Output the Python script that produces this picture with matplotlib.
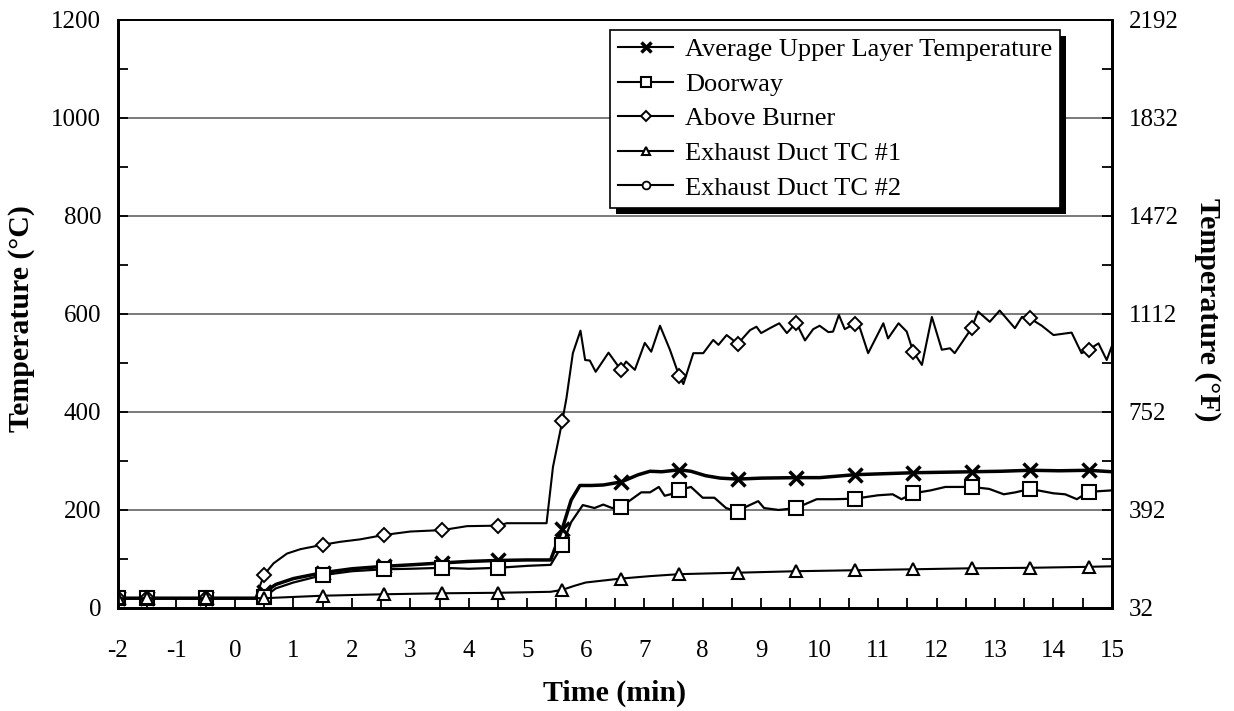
import matplotlib
matplotlib.use("Agg")
import matplotlib.pyplot as plt
from matplotlib.ticker import MultipleLocator, FixedLocator
from matplotlib.patches import Rectangle
from matplotlib.transforms import IdentityTransform

plt.rcParams['font.family'] = ['Liberation Serif', 'DejaVu Serif']
plt.rcParams['axes.unicode_minus'] = False

# Average upper layer temperature (deg C)
avg_t = [-2, -1.5, -0.5, 0.35, 0.5, 0.7, 1.0, 1.5, 2.0, 2.55, 3.0, 3.55, 4.0, 4.5, 5.0, 5.4,
         5.6, 5.75, 5.9, 6.1, 6.3, 6.6, 6.9, 7.1, 7.3, 7.6, 7.8, 8.05, 8.3, 8.6, 9.0, 9.6,
         10.0, 10.6, 11.1, 11.6, 12.1, 12.6, 13.1, 13.6, 14.1, 14.6, 15.0]
avg_y = [20, 20, 20, 20, 32, 48, 60, 72, 80, 85, 88, 92, 95, 97, 98, 98,
         162, 220, 250, 250, 251, 257, 272, 279, 278, 282, 279, 270, 265, 263, 265, 266,
         266, 272, 274, 276, 277, 278, 279, 281, 280, 281, 278]

# Doorway
door_t = [-2, -1.5, -0.5, 0.35, 0.5, 0.7, 1.0, 1.5, 2.0, 2.55, 3.0, 3.55, 4.0, 4.5, 5.0, 5.4,
          5.6, 5.75, 5.95, 6.15, 6.3, 6.45, 6.6, 6.95, 7.1, 7.25, 7.35, 7.45, 7.6, 7.8, 8.0,
          8.2, 8.4, 8.6, 8.75, 8.95, 9.05, 9.3, 9.6, 9.95, 10.25, 10.6, 11.0, 11.25, 11.4,
          11.6, 11.9, 12.15, 12.6, 12.9, 13.15, 13.35, 13.6, 14.0, 14.2, 14.4, 14.6, 15.0]
door_y = [20, 20, 20, 20, 22, 40, 52, 67, 75, 79, 80, 82, 80, 82, 86, 88,
          128, 175, 210, 204, 211, 204, 206, 236, 236, 247, 229, 232, 241, 247, 225,
          225, 204, 196, 207, 218, 204, 200, 204, 222, 222, 223, 230, 232, 222,
          234, 240, 247, 247, 243, 232, 236, 243, 234, 232, 222, 237, 240]

# Above burner
burn_t = [-2, -1.5, -0.5, 0.35, 0.5, 0.66, 0.89, 1.12, 1.5, 1.8, 2.14, 2.55, 3.0, 3.55,
          3.97, 4.5, 4.65, 5.33, 5.44, 5.6, 5.67, 5.78, 5.91, 5.99, 6.07, 6.17, 6.39, 6.6,
          6.69, 6.84, 7.01, 7.12, 7.27, 7.44, 7.6, 7.67, 7.84, 8.01, 8.18, 8.27, 8.41, 8.6,
          8.81, 8.92, 9.0, 9.15, 9.31, 9.44, 9.6, 9.75, 9.89, 10.0, 10.15, 10.23, 10.33,
          10.43, 10.6, 10.69, 10.83, 11.09, 11.17, 11.35, 11.49, 11.6, 11.75, 11.92, 12.09,
          12.23, 12.31, 12.6, 12.71, 12.91, 13.08, 13.34, 13.46, 13.6, 13.8, 14.0, 14.31,
          14.48, 14.6, 14.77, 14.91, 15.0]
burn_y = [20, 20, 20, 20, 68, 91, 111, 120, 129, 135, 140, 149, 156, 159,
          167, 168, 173, 173, 288, 382, 428, 520, 566, 506, 505, 482, 521, 486,
          503, 486, 541, 523, 576, 527, 473, 457, 520, 520, 547, 537, 557, 539,
          567, 574, 561, 571, 581, 561, 582, 546, 569, 576, 563, 564, 598,
          569, 580, 571, 520, 581, 550, 581, 564, 523, 496, 594, 527,
          530, 520, 571, 605, 584, 607, 571, 594, 591, 576, 557, 562,
          520, 527, 540, 506, 535]

# Exhaust duct TC #1
tc1_t = [-2, -1.5, -0.5, 0.5, 1.5, 2.55, 3.55, 4.5, 5.4, 5.6, 5.8, 6.0, 6.6, 7.1, 7.6,
         8.6, 9.6, 10.6, 11.6, 12.6, 13.6, 14.6, 15.0]
tc1_y = [20, 20, 20, 20, 25, 28, 30, 31, 33, 37, 45, 52, 60, 65, 69,
         72, 75, 77, 79, 81, 82, 84, 85]

# Exhaust duct TC #2 (hidden under the other markers)
tc2_t = [-2, -1.5, -0.5, 0.5]
tc2_y = [20, 20, 20, 20]

mark_t = [-2, -1.5, -0.5, 0.5, 1.5, 2.55, 3.55, 4.5, 5.6, 6.6, 7.6, 8.6, 9.6, 10.6, 11.6,
          12.6, 13.6, 14.6]

f_labels = ['32', '392', '752', '1112', '1472', '1832', '2192']


def marks(t):
    return [i for i, v in enumerate(t) if v in mark_t]


fig = plt.figure(figsize=(12.34, 7.11), dpi=100)
ax = fig.add_axes([0.0956, 0.1449, 0.8055, 0.827])

for yy in [200, 400, 600, 800, 1000]:
    ax.axhline(yy, color='#7a7a7a', lw=1.4, zorder=0)

ax.plot(tc2_t, tc2_y, color='black', lw=1.3, marker='o', ms=8, mfc='white', mec='black',
        mew=1.3, markevery=marks(tc2_t), label='Exhaust Duct TC #2', zorder=2)
ax.plot(avg_t, avg_y, color='black', lw=2.5, marker='x', ms=10, mew=2.5,
        markevery=marks(avg_t), label='Average Upper Layer Temperature', zorder=3)
ax.plot(door_t, door_y, color='black', lw=1.6, marker='s', ms=10, mfc='white', mec='black',
        mew=1.5, markevery=marks(door_t), label='Doorway', zorder=4)
ax.plot(burn_t, burn_y, color='black', lw=1.5, marker='D', ms=7, mfc='white', mec='black',
        mew=1.4, markevery=marks(burn_t), label='Above Burner', zorder=5)
ax.plot(tc1_t, tc1_y, color='black', lw=1.5, marker='^', ms=9, mfc='white', mec='black',
        mew=1.5, markevery=marks(tc1_t), label='Exhaust Duct TC #1', zorder=6)

ax.set_xlim(-2, 15)
ax.set_ylim(0, 1200)
ax.xaxis.set_major_locator(MultipleLocator(1))
ax.xaxis.set_minor_locator(MultipleLocator(0.5))
ax.yaxis.set_major_locator(MultipleLocator(200))
ax.yaxis.set_minor_locator(MultipleLocator(100))
ax.tick_params(which='both', direction='in', length=7, width=1.3)
ax.tick_params(axis='x', which='both', labelsize=18, pad=23)
ax.tick_params(axis='y', which='both', labelsize=18, pad=12)
for s in ax.spines.values():
    s.set_linewidth(2.0)
ax.spines['top'].set_linewidth(1.3)

ax.set_xlabel('Time (min)', fontsize=21.5, fontweight='bold', va='center')
ax.xaxis.set_label_coords(0.5, -0.146)
ax.set_ylabel('Temperature (°C)', fontsize=21.5, fontweight='bold', va='center')
ax.yaxis.set_label_coords(-0.0966, 0.492)

ax2 = ax.twinx()
ax2.set_ylim(0, 1200)
ax2.yaxis.set_major_locator(FixedLocator([0, 200, 400, 600, 800, 1000, 1200]))
ax2.set_yticklabels(f_labels)
ax2.yaxis.set_minor_locator(MultipleLocator(100))
ax2.tick_params(which='both', direction='in', length=7, width=1.3, labelsize=18, pad=12)
ax2.set_ylabel('Temperature (°F)', fontsize=21.5, fontweight='bold', rotation=270,
               va='center', ha='center')
ax2.yaxis.set_label_coords(1.0966, 0.508)
for s in ax2.spines.values():
    s.set_linewidth(2.0)
ax2.spines['top'].set_linewidth(1.3)

h, l = ax.get_legend_handles_labels()
order = [1, 2, 3, 4, 0]
leg = ax2.legend([h[i] for i in order], [l[i] for i in order], loc='upper right',
                 bbox_to_anchor=(0.948, 0.983), fontsize=19, frameon=True, fancybox=False,
                 framealpha=1, edgecolor='black', markerscale=0.7,
                 handlelength=2.1, handletextpad=0.45, borderpad=0.3, labelspacing=0.42,
                 borderaxespad=0)
leg.get_frame().set_linewidth(1.2)
for line in leg.get_lines():
    line.set_linewidth(1.5)

# solid black drop shadow behind the legend box
fig.canvas.draw()
bb = leg.get_window_extent()
ax2.add_patch(Rectangle((bb.x0 + 6, bb.y0 - 6), bb.width, bb.height, transform=IdentityTransform(),
                        facecolor='black', edgecolor='none', zorder=4.9, clip_on=False))

fig.savefig('out.png', dpi=100)
